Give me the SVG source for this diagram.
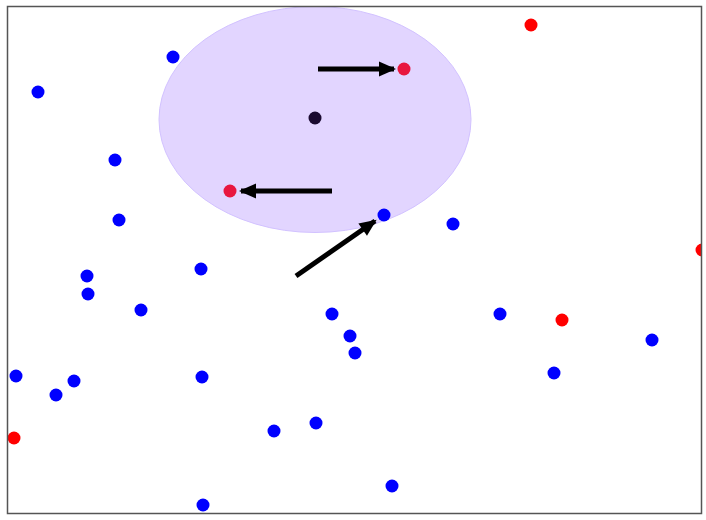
<svg xmlns="http://www.w3.org/2000/svg" width="706" height="520" viewBox="0 0 706 520">
<style>
.b{fill:#0000ff}
.r{fill:#ff0000}
.ri{fill:#e8173f}
.ar{stroke:#000;stroke-width:5;fill:none;marker-end:url(#ah)}
</style>
<defs>
<marker id="ah" markerUnits="userSpaceOnUse" markerWidth="20" markerHeight="20" refX="16" refY="10" orient="auto" viewBox="0 0 20 20">
<path d="M1,2.5 L18,10 L1,17.5 Z" fill="#000"/>
</marker>
<clipPath id="fr"><rect x="7.5" y="6.5" width="694" height="507"/></clipPath>
</defs>
<rect width="706" height="520" fill="#fff"/>
<g id="region">
<ellipse cx="315" cy="119.5" rx="156" ry="113" fill="#e2d5ff" stroke="#d2c2ff" stroke-width="1"/>
</g>
<g id="points" clip-path="url(#fr)">
<circle class="b" cx="173" cy="57" r="6.5"/>
<circle class="b" cx="38" cy="92" r="6.5"/>
<circle class="b" cx="115" cy="160" r="6.5"/>
<circle class="b" cx="119" cy="220" r="6.5"/>
<circle class="b" cx="87" cy="276" r="6.5"/>
<circle class="b" cx="88" cy="294" r="6.5"/>
<circle class="b" cx="141" cy="310" r="6.5"/>
<circle class="b" cx="201" cy="269" r="6.5"/>
<circle class="b" cx="16" cy="376" r="6.5"/>
<circle class="b" cx="74" cy="381" r="6.5"/>
<circle class="b" cx="56" cy="395" r="6.5"/>
<circle class="b" cx="202" cy="377" r="6.5"/>
<circle class="b" cx="274" cy="431" r="6.5"/>
<circle class="b" cx="316" cy="423" r="6.5"/>
<circle class="b" cx="332" cy="314" r="6.5"/>
<circle class="b" cx="350" cy="336" r="6.5"/>
<circle class="b" cx="355" cy="353" r="6.5"/>
<circle class="b" cx="384" cy="215" r="6.5"/>
<circle class="b" cx="453" cy="224" r="6.5"/>
<circle class="b" cx="500" cy="314" r="6.5"/>
<circle class="b" cx="554" cy="373" r="6.5"/>
<circle class="b" cx="652" cy="340" r="6.5"/>
<circle class="b" cx="392" cy="486" r="6.5"/>
<circle class="b" cx="203" cy="505" r="6.5"/>
<circle class="r" cx="531" cy="25" r="6.5"/>
<circle class="r" cx="562" cy="320" r="6.5"/>
<circle class="r" cx="14" cy="438" r="6.5"/>
<circle class="r" cx="702" cy="250" r="6.5"/>
<circle class="ri" cx="404" cy="69" r="6.5"/>
<circle class="ri" cx="230" cy="191" r="6.5"/>
<circle cx="315" cy="118" r="6.5" fill="#1a0a30"/>
</g>
<g id="connectors">
<line class="ar" x1="318" y1="69" x2="394" y2="69"/>
<line class="ar" x1="332" y1="191" x2="241" y2="191"/>
<line class="ar" x1="296" y1="276" x2="375" y2="221"/>
</g>
<rect x="7.5" y="6.5" width="694" height="507" fill="none" stroke="#555" stroke-width="1.5"/>
</svg>
